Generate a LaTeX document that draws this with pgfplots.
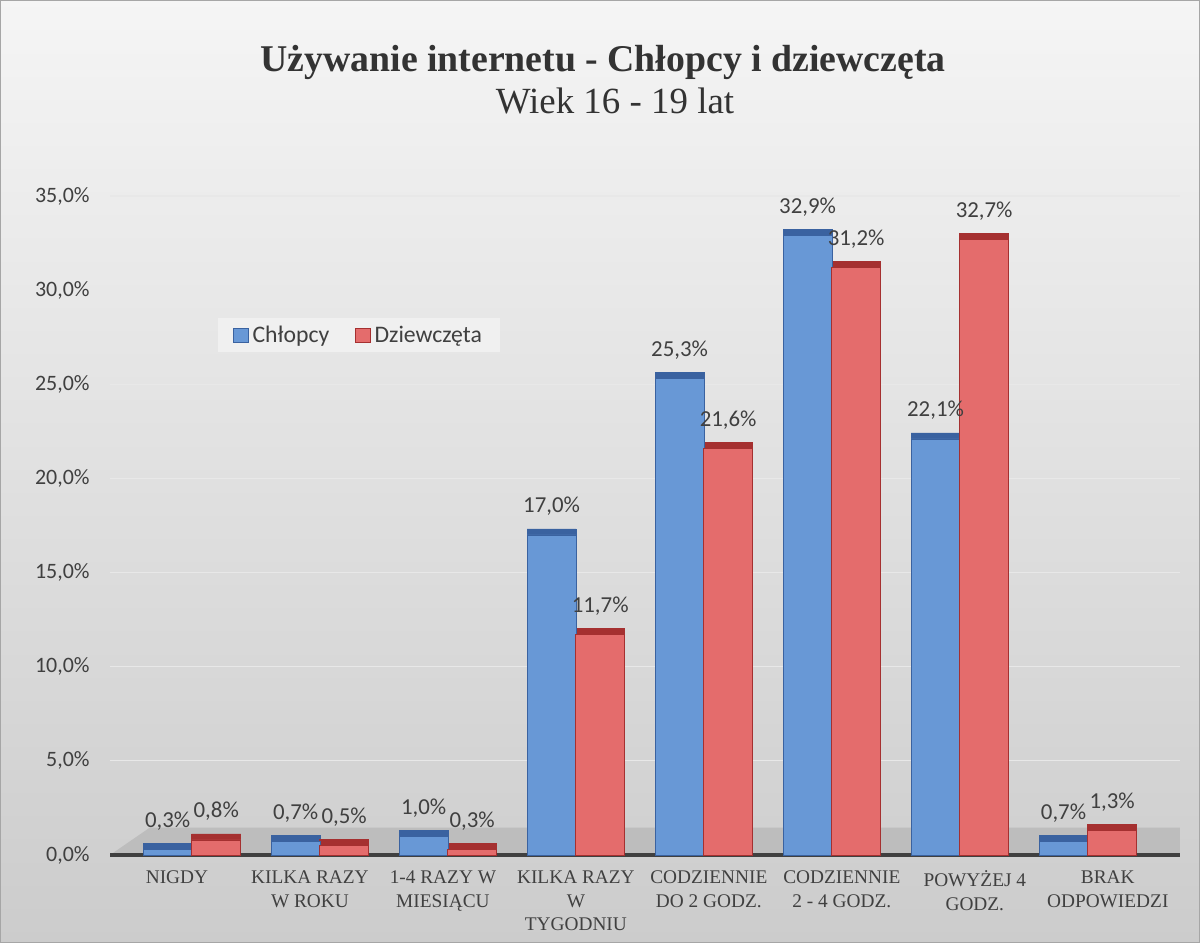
\documentclass[border=0pt]{standalone}
\usepackage{fontspec}
\setmainfont{Liberation Serif}
\newfontfamily\calibri{Carlito}
\usepackage{pgfplots}
\pgfplotsset{compat=1.18}
\definecolor{bluef}{RGB}{104,152,214}
\definecolor{blued}{RGB}{58,98,160}
\definecolor{redf}{RGB}{228,108,108}
\definecolor{redd}{RGB}{165,48,48}
\definecolor{txt}{RGB}{64,64,64}
\begin{document}
\begin{tikzpicture}
\shade[top color=black!4, bottom color=black!20] (0,0) rectangle (24cm,18.86cm);
\draw[black!35, line width=0.6pt] (0.01cm,0.01cm) rectangle (23.99cm,18.85cm);
\node[font=\bfseries\fontsize{21.5}{25}\selectfont, text=black!80] at (12.06cm,17.62cm) {Używanie internetu - Chłopcy i dziewczęta};
\node[font=\fontsize{21}{25}\selectfont, text=black!80] at (12.3cm,16.84cm) {Wiek 16 - 19 lat};
\begin{axis}[
  at={(2.2cm,1.76cm)}, anchor=south west,
  scale only axis, width=21.40cm, height=13.18cm,
  xmin=-0.64, xmax=7.72, ymin=0, ymax=35,
  xtick={-0.117,0.922,1.961,3.0,4.039,5.078,6.117,7.156},
  xticklabels={NIGDY, {KILKA RAZY\\W ROKU}, {1-4 RAZY W\\MIESIĄCU}, {KILKA RAZY\\W\\TYGODNIU}, {CODZIENNIE\\DO 2 GODZ.}, {CODZIENNIE\\2 - 4 GODZ.}, {POWYŻEJ 4\\GODZ.}, {BRAK\\ODPOWIEDZI}},
  ytick={0,5,...,35},
  ymajorgrids, major grid style={black!9, line width=0.7pt},
  major tick length=0pt,
  axis line style={draw=none},
  /pgf/number format/assume math mode=true,
  yticklabel={\pgfmathprintnumber[fixed,fixed zerofill,precision=1,use comma]{\tick}\%},
  yticklabel style={font=\calibri\fontsize{12.5}{15}\selectfont, text=txt, anchor=east, inner sep=0pt, xshift=-0.4cm},
  xticklabel style={font=\fontsize{11}{13.6}\selectfont, text=txt, align=center, anchor=north, inner sep=0pt, yshift=-0.3cm},
  clip=false,
  legend style={at={(0.0,0.815)}, xshift=2.16cm, anchor=north west, fill=white!94!black, draw=none, inner xsep=0.3cm, inner ysep=0.08cm, font=\calibri\fontsize{13.5}{16}\selectfont, text=txt, legend columns=2, /tikz/every even column/.append style={column sep=0.45cm}},
  legend image code/.code={\draw[#1] (0cm,-0.15cm) rectangle (0.3cm,0.15cm);},
  nodes near coords style={font=\calibri\fontsize{13}{15}\selectfont, text=txt, anchor=south, yshift=0.26cm},
]
\fill[black!26] (axis cs:-0.64,0) -- (axis cs:7.72,0) -- (axis cs:7.72,1.45) -- (axis cs:-0.33,1.45) -- cycle;
\draw[black!75, line width=2pt] (axis cs:-0.64,0) -- (axis cs:7.72,0);
% depth (top faces)
\addplot[ybar, bar width=0.383, bar shift=-0.19, fill=blued, draw=blued, yshift=0.12cm, forget plot] coordinates {(0,0.3) (1,0.7) (2,1.0) (3,17.0) (4,25.3) (5,32.9) (6,22.1) (7,0.7)};
\addplot[ybar, bar width=0.383, bar shift=0.19, fill=redd, draw=redd, yshift=0.12cm, forget plot] coordinates {(0,0.8) (1,0.5) (2,0.3) (3,11.7) (4,21.6) (5,31.2) (6,32.7) (7,1.3)};
% front faces
\addplot[ybar, bar width=0.383, bar shift=-0.19, fill=bluef, draw=blued,
  every node near coord/.append style={xshift=-0.486cm},
  nodes near coords={\pgfmathprintnumber[fixed,fixed zerofill,precision=1,use comma]{\pgfplotspointmeta}\%}] coordinates {(0,0.3) (1,0.7) (2,1.0) (3,17.0) (4,25.3) (5,32.9) (6,22.1) (7,0.7)};
\addlegendentry{Chłopcy}
\addplot[ybar, bar width=0.383, bar shift=0.19, fill=redf, draw=redd,
  every node near coord/.append style={xshift=0.486cm},
  nodes near coords={\pgfmathprintnumber[fixed,fixed zerofill,precision=1,use comma]{\pgfplotspointmeta}\%}] coordinates {(0,0.8) (1,0.5) (2,0.3) (3,11.7) (4,21.6) (5,31.2) (6,32.7) (7,1.3)};
\addlegendentry{Dziewczęta}
\end{axis}
\end{tikzpicture}
\end{document}
